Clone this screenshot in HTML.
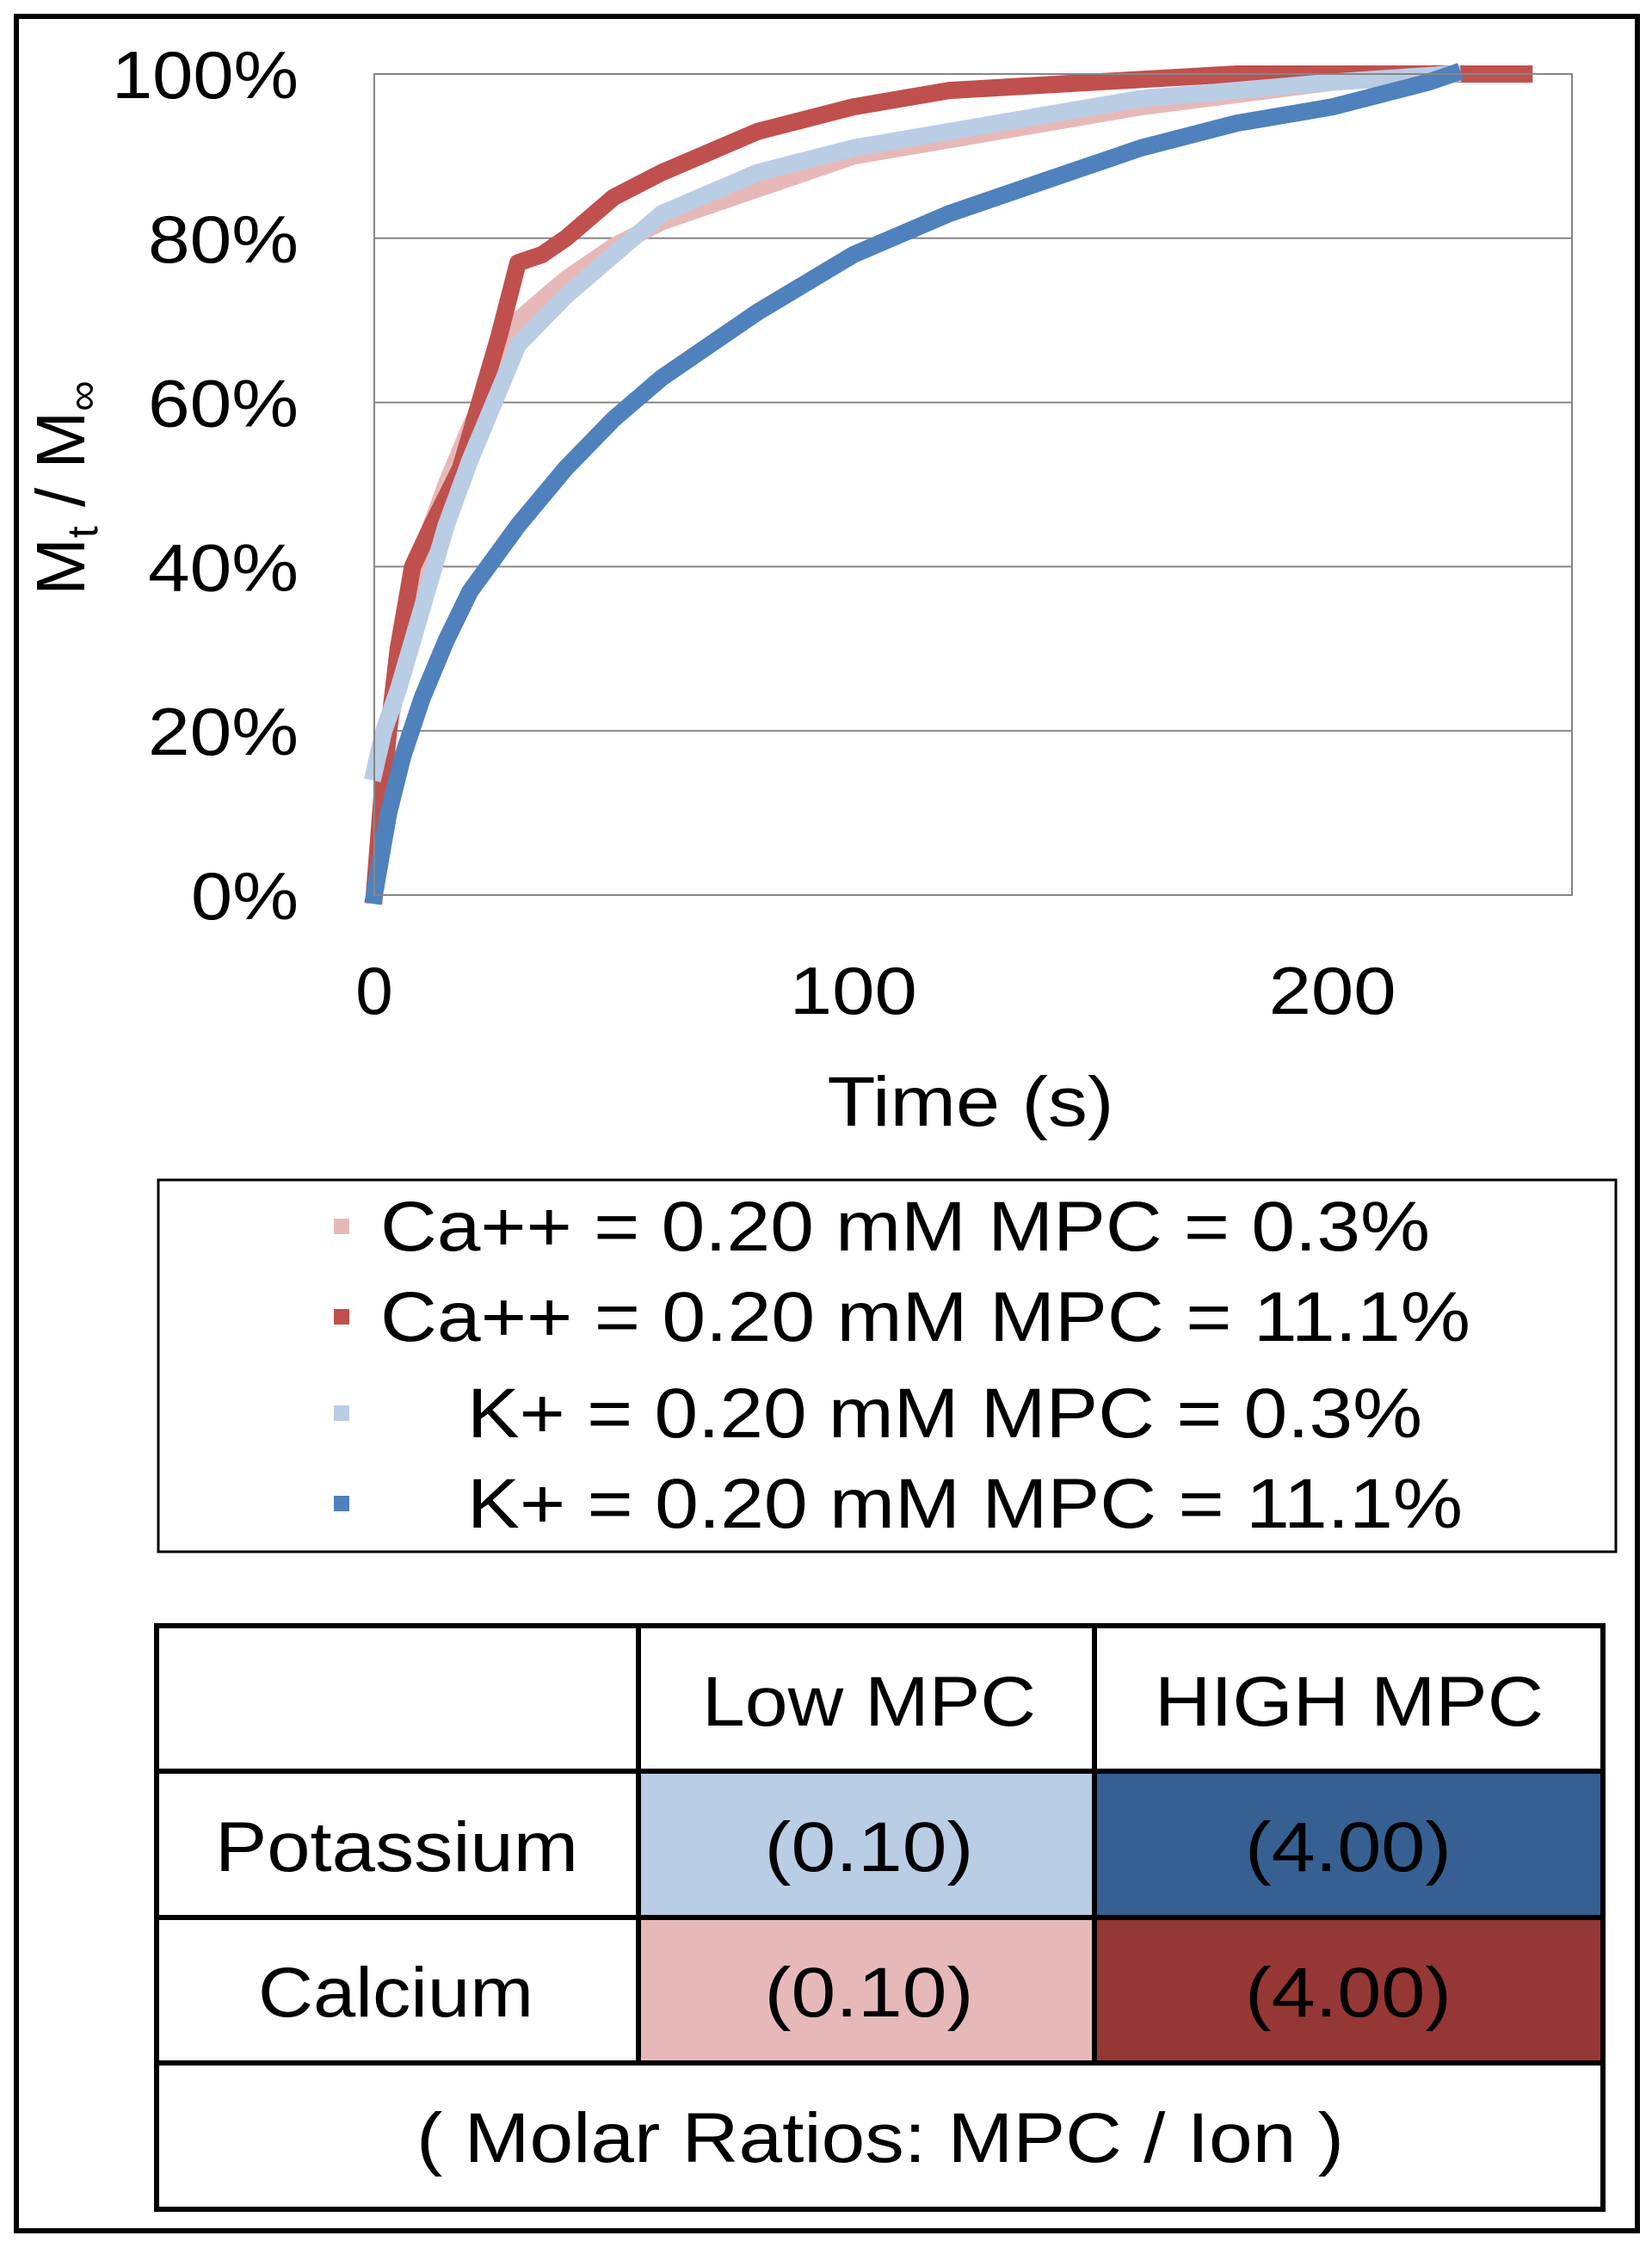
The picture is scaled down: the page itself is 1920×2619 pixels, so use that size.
<!DOCTYPE html>
<html><head><meta charset="utf-8"><style>
html,body{margin:0;padding:0;background:#fff;}
body{width:1920px;height:2614px;position:relative;overflow:hidden;font-family:"Liberation Sans",sans-serif;}
svg text{font-family:"Liberation Sans",sans-serif;}
</style></head><body>
<svg id="chart" width="1920" height="2614">
<rect x="19" y="19" width="1884" height="2573" fill="none" stroke="#000" stroke-width="6"/>
<g id="grid"></g>
<g id="series"></g>
<g id="axes"></g>
<text x="0" y="0" transform="translate(98,567) rotate(-90)" text-anchor="middle" font-size="80" fill="#000">M<tspan font-size="50" dy="15">t</tspan><tspan dy="-15"> / M</tspan><tspan font-size="50" dy="15">∞</tspan></text>
<text x="1128" y="1308" text-anchor="middle" font-size="82" textLength="333" lengthAdjust="spacingAndGlyphs" fill="#000">Time (s)</text>
<g>
<rect x="184" y="1371" width="1694" height="432" fill="#fff" stroke="#000" stroke-width="3"/>
<g><rect x="388" y="1416" width="18" height="18" fill="#e6b9b8"/><text x="442" y="1453" font-size="82" textLength="1220" lengthAdjust="spacingAndGlyphs">Ca++ = 0.20 mM MPC = 0.3%</text></g>
<g><rect x="388" y="1521" width="18" height="18" fill="#c0504d"/><text x="442" y="1558" font-size="82" textLength="1267" lengthAdjust="spacingAndGlyphs">Ca++ = 0.20 mM MPC = 11.1%</text></g>
<g><rect x="388" y="1633" width="18" height="18" fill="#b9cde5"/><text x="543" y="1670" font-size="82" textLength="1110" lengthAdjust="spacingAndGlyphs">K+ = 0.20 mM MPC = 0.3%</text></g>
<g><rect x="388" y="1738" width="18" height="18" fill="#4f81bd"/><text x="543" y="1775" font-size="82" textLength="1157" lengthAdjust="spacingAndGlyphs">K+ = 0.20 mM MPC = 11.1%</text></g>
</g>
<g>
<rect x="742" y="2058" width="530" height="170" fill="#b9cde5"/>
<rect x="1272" y="2058" width="591" height="170" fill="#366092"/>
<rect x="742" y="2228" width="530" height="169" fill="#e6b9b8"/>
<rect x="1272" y="2228" width="591" height="169" fill="#953735"/>
<g stroke="#000" stroke-width="6" fill="none">
<rect x="182" y="1889" width="1681" height="678"/>
<line x1="182" y1="2058" x2="1863" y2="2058"/>
<line x1="182" y1="2228" x2="1863" y2="2228"/>
<line x1="182" y1="2397" x2="1863" y2="2397"/>
<line x1="742" y1="1889" x2="742" y2="2397"/>
<line x1="1272" y1="1889" x2="1272" y2="2397"/>
</g>
<g font-size="82" text-anchor="middle" fill="#000" lengthAdjust="spacingAndGlyphs">
<text x="1010" y="2005" textLength="388" lengthAdjust="spacingAndGlyphs">Low MPC</text>
<text x="1568" y="2005" textLength="452" lengthAdjust="spacingAndGlyphs">HIGH MPC</text>
<text x="461" y="2174" textLength="422" lengthAdjust="spacingAndGlyphs">Potassium</text>
<text x="460" y="2343" textLength="320" lengthAdjust="spacingAndGlyphs">Calcium</text>
<text x="1010" y="2174" textLength="243" lengthAdjust="spacingAndGlyphs">(0.10)</text>
<text x="1567" y="2174" textLength="240" lengthAdjust="spacingAndGlyphs">(4.00)</text>
<text x="1010" y="2343" textLength="243" lengthAdjust="spacingAndGlyphs">(0.10)</text>
<text x="1567" y="2343" textLength="240" lengthAdjust="spacingAndGlyphs">(4.00)</text>
<text x="1023" y="2512" textLength="1078" lengthAdjust="spacingAndGlyphs">( Molar Ratios: MPC / Ion )</text>
</g>
</g>
</svg>
<script>
const yTicks=[0,20,40,60,80,100];
const xTicks=[0,100,200];
const t_caLow=[0,3,6,10,15,20,25,30,40,50,60,80,100,130,160,200,220];
const v_caLow=[0,20,30,42,50,57,63,70,75,79,82,86,90,93,96,99,100];
const t_caHigh=[0,2,5,8,12,18,22,26,30,35,40,50,60,80,100,120,150,180,240];
const v_caHigh=[0,15,30,40,45,52,60,68,77,78,80,85,88,93,96,98,99,100,100];
const t_kLow=[0,2,5,10,15,20,25,30,40,50,60,80,100,130,160,200,225];
const v_kLow=[15,20,25,35,45,53,60,67,73,78,83,88,91,94,97,99,100];
const t_kHigh=[0,3,6,10,15,20,30,40,50,60,80,100,120,140,160,180,200,220,225];
const v_kHigh=[0,10,17,24,31,37,45,52,58,63,71,78,83,87,91,94,96,99,100];
const L=435,R=1827,T=86,B=1040,XMAX=250;
const X=v=>L+(R-L)*v/XMAX, Y=v=>B-(B-T)*v/100;
const NS="http://www.w3.org/2000/svg";
const grid=document.getElementById('grid'),axes=document.getElementById('axes'),ser=document.getElementById('series');
function mk(tag,attrs,parent){const e=document.createElementNS(NS,tag);for(const k in attrs)e.setAttribute(k,attrs[k]);parent.appendChild(e);return e;}
const yLen={0:125,20:175,40:175,60:175,80:175,100:217};
yTicks.forEach(v=>{
 const l=mk('line',{x1:L,x2:R,y1:Y(v),y2:Y(v),stroke:'#868686','stroke-width':2},grid);
 
 
 const t=mk('text',{x:347,y:Y(v)+28,'text-anchor':'end','font-size':78,textLength:yLen[v],lengthAdjust:'spacingAndGlyphs'},axes);
 t.textContent=v+'%';
 
 
});
const box=mk('rect',{x:L,y:T,width:R-L,height:B-T,fill:'none',stroke:'#868686','stroke-width':2},axes);


xTicks.forEach(v=>{
 const t=mk('text',{x:X(v),y:1178,'text-anchor':'middle','font-size':78},axes);
 if(v>0){t.setAttribute('textLength',148);t.setAttribute('lengthAdjust','spacingAndGlyphs');}
 t.textContent=v;
 
 
});
function line(ts,vs,color,name){
 const d=ts.map((t,i)=>(i?'L':'M')+X(t).toFixed(1)+' '+Y(vs[i]).toFixed(1)).join(' ');
 const p=mk('path',{d:d,fill:'none',stroke:color,'stroke-width':20,'stroke-linejoin':'round','stroke-linecap':'square'},ser);
 
 
}
line(t_caLow,v_caLow,'#e6b9b8','series-ca-low-mpc');
line(t_caHigh,v_caHigh,'#c0504d','series-ca-high-mpc');
line(t_kLow,v_kLow,'#b9cde5','series-k-low-mpc');
line(t_kHigh,v_kHigh,'#4f81bd','series-k-high-mpc');
</script>
</body></html>
